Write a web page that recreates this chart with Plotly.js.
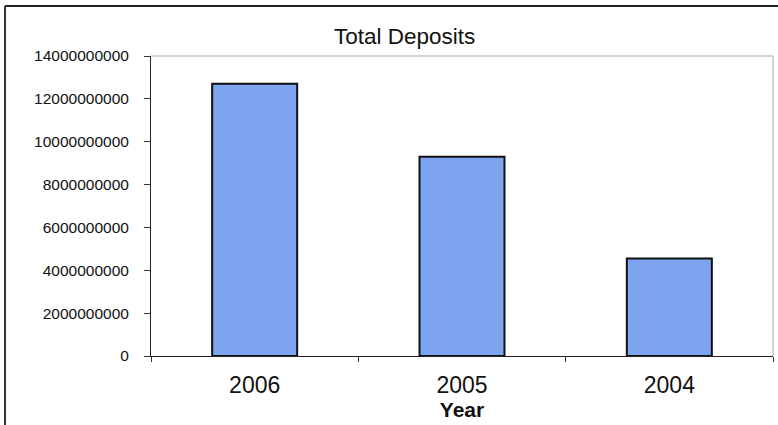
<!DOCTYPE html>
<html>
<head>
<meta charset="utf-8">
<script src="https://cdn.plot.ly/plotly-3.0.1.min.js"></script>
<style>html,body{margin:0;padding:0;background:#fff;}#chart{width:778px;height:425px;}</style>
</head>
<body>
<div id="chart"></div>
<script>
const years = ["2006", "2005", "2004"];
const deposits = [12700000000, 9300000000, 4550000000];
const yTicks = [0, 2000000000, 4000000000, 6000000000, 8000000000, 10000000000, 12000000000, 14000000000];

const trace = {
  type: "bar",
  x: years,
  y: deposits,
  marker: { color: "#7ca4ef", line: { color: "#111", width: 2 } },
  hoverinfo: "none"
};

const layout = {
  width: 778,
  height: 425,
  margin: { l: 151, r: 5, t: 56, b: 69, pad: 0 },
  paper_bgcolor: "#fff",
  plot_bgcolor: "#fff",
  showlegend: false,
  bargap: 0.59,
  title: {
    text: "Total Deposits",
    font: { family: "Arial, Liberation Sans, sans-serif", size: 22.5, color: "#111" },
    x: 0.52, xanchor: "center", y: 0.915, yanchor: "middle"
  },
  xaxis: {
    type: "category",
    tickson: "boundaries",
    ticks: "outside",
    ticklen: 5,
    tickcolor: "#333",
    showline: true,
    linecolor: "#222",
    linewidth: 1,
    showgrid: false,
    ticklabelstandoff: 8,
    tickfont: { family: "Arial, Liberation Sans, sans-serif", size: 23, color: "#111" },
    title: { text: "<b>Year</b>", font: { family: "Arial, Liberation Sans, sans-serif", size: 21, color: "#111" }, standoff: 0 }
  },
  yaxis: {
    range: [0, 14000000000],
    tickvals: yTicks,
    tickformat: "d",
    ticks: "outside",
    ticklen: 6,
    tickcolor: "#333",
    showline: true,
    linecolor: "#222",
    linewidth: 1,
    showgrid: false,
    zeroline: false,
    ticklabelstandoff: 12,
    tickfont: { family: "Arial, Liberation Sans, sans-serif", size: 15.5, color: "#111" }
  },
  shapes: [
    { type: "line", xref: "paper", yref: "paper", x0: 0, x1: 1, y0: 1, y1: 1, line: { color: "#aaa", width: 1 } },
    { type: "line", xref: "paper", yref: "paper", x0: 1, x1: 1, y0: 0, y1: 1, line: { color: "#aaa", width: 1 } },
    { type: "line", xref: "paper", yref: "paper", x0: -0.2347, x1: -0.2347, y0: -0.24, y1: 1.1667, line: { color: "#333", width: 2 } },
    { type: "line", xref: "paper", yref: "paper", x0: -0.2347, x1: 1.01, y0: 1.1667, y1: 1.1667, line: { color: "#222", width: 2 } }
  ]
};

Plotly.newPlot("chart", [trace], layout, { displayModeBar: false, staticPlot: true });
</script>
</body>
</html>
